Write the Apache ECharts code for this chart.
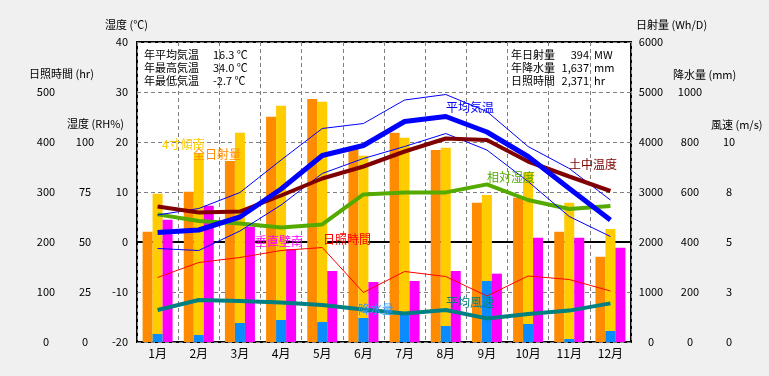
<!DOCTYPE html>
<html>
<head>
<meta charset="utf-8">
<script src="https://cdn.jsdelivr.net/npm/echarts@6/dist/echarts.min.js"></script>
<style>
  html, body { margin: 0; padding: 0; background: #f0f0f0; }
  #chart { width: 769px; height: 376px; }
</style>
</head>
<body>
<div id="chart"></div>
<script>
// 月
var months = ['1月', '2月', '3月', '4月', '5月', '6月', '7月', '8月', '9月', '10月', '11月', '12月'];

// 日射量 (Wh/D)
var zenNissha = [2207, 3007, 3620, 4507, 4860, 3870, 4187, 3840, 2787, 2887, 2207, 1707];
var keisha4sun = [2967, 3773, 4187, 4727, 4807, 3727, 4087, 3887, 2940, 3393, 2787, 2260];
var suichokuMinami = [2447, 2727, 2307, 1860, 1420, 1200, 1220, 1420, 1367, 2087, 2087, 1887];

// 降水量 (mm)
var kousui = [32, 28, 76, 88, 80, 96, 108, 64, 244, 72, 12, 44];

// 気温 (℃)
var heikinKion = [1.9, 2.4, 5.0, 10.6, 17.3, 19.3, 24.1, 25.1, 22.0, 17.1, 10.7, 4.4];
var saikouKion = [5.4, 6.7, 9.9, 16.4, 22.7, 23.7, 28.4, 29.5, 26.1, 19.1, 14.7, 8.4];
var saiteiKion = [-1.3, -1.7, 2.2, 7.4, 13.7, 16.7, 19.1, 21.7, 18.4, 12.1, 5.1, 1.1];
var dochuOndo = [7.1, 5.9, 6.1, 9.3, 12.7, 15.1, 18.1, 20.7, 20.4, 16.1, 13.1, 10.2];

// 相対湿度 (RH%)
var soutaiShitsudo = [63.8, 60.5, 59.3, 57.2, 58.8, 73.8, 74.8, 74.8, 78.8, 71.0, 66.5, 68.0];

// 日照時間 (hr)
var nisshouJikan = [129, 159, 169, 183, 189, 99, 141, 131, 92, 132, 125, 102];

// 平均風速 (m/s)
var heikinFuusoku = [1.6, 2.1, 2.05, 1.98, 1.85, 1.63, 1.43, 1.6, 1.18, 1.4, 1.57, 1.93];

var FONT = '"Noto Sans CJK JP", sans-serif';

function txt(s, x, y, color, size, align) {
    return {
        type: 'text',
        x: x,
        y: y,
        z: 100,
        style: {
            text: s,
            fill: color || '#000',
            font: (size || 11) + 'px ' + FONT,
            textAlign: align || 'left',
            textVerticalAlign: 'middle'
        }
    };
}

var myChart = echarts.init(document.getElementById('chart'));

var dashed = {show: true, lineStyle: {color: '#808080', type: [4, 3], width: 1}};

function sideAxis(pos, min, max, interval, margin, limit, fmt) {
    return {
        type: 'value',
        position: pos,
        min: min,
        max: max,
        interval: interval,
        axisLine: {show: false},
        axisTick: {show: false},
        splitLine: {show: false},
        axisLabel: {
            color: '#000',
            fontSize: 11,
            fontFamily: FONT,
            align: 'center',
            margin: margin,
            formatter: function (v) {
                if (v > limit) return '';
                return fmt ? fmt(v) : String(v);
            }
        }
    };
}

var option = {
    backgroundColor: '#f0f0f0',
    animation: false,
    grid: {
        left: 137, right: 138, top: 42, bottom: 34,
        show: true,
        backgroundColor: '#fff',
        borderColor: '#000',
        borderWidth: 2
    },
    xAxis: [
        {
            type: 'category',
            data: months,
            axisTick: {show: false},
            axisLine: {lineStyle: {color: '#000', width: 2}},
            axisLabel: {color: '#000', fontSize: 12, fontFamily: FONT, margin: 5},
            splitLine: dashed
        },
        {
            type: 'category',
            data: months,
            show: false
        }
    ],
    yAxis: [
        {
            // 湿度 (℃)
            type: 'value',
            position: 'left',
            min: -20, max: 40, interval: 10,
            axisLine: {show: false},
            axisTick: {show: false},
            splitLine: dashed,
            axisLabel: {color: '#000', fontSize: 11, fontFamily: FONT, margin: 9}
        },
        sideAxis('left', 0, 600, 100, 91, 500),          // 日照時間
        sideAxis('left', 0, 150, 25, 52, 100),           // 湿度 RH%
        sideAxis('right', 0, 6000, 1000, 20, 6000),      // 日射量
        sideAxis('right', 0, 1200, 200, 59, 1000),       // 降水量
        sideAxis('right', 0, 15, 2.5, 98, 10, function (v) { return String(Math.round(v)); }) // 風速
    ],
    series: [
        {
            name: '全日射量', type: 'bar', yAxisIndex: 3, data: zenNissha,
            barWidth: 10, barGap: '0%', itemStyle: {color: '#ff8c00'}
        },
        {
            name: '4寸傾南', type: 'bar', yAxisIndex: 3, data: keisha4sun,
            barWidth: 10, barGap: '0%', itemStyle: {color: '#ffcc00'}
        },
        {
            name: '垂直壁南', type: 'bar', yAxisIndex: 3, data: suichokuMinami,
            barWidth: 10, barGap: '0%', itemStyle: {color: '#ff00ff'}
        },
        {
            name: '降水量', type: 'bar', xAxisIndex: 1, yAxisIndex: 4, data: kousui,
            barWidth: 10, itemStyle: {color: '#0a8cff'}, z: 3
        },
        {
            name: '日照時間', type: 'line', yAxisIndex: 1, data: nisshouJikan,
            showSymbol: false, lineStyle: {color: '#ff0000', width: 1}, z: 5
        },
        {
            name: '相対湿度', type: 'line', yAxisIndex: 2, data: soutaiShitsudo,
            showSymbol: false, lineStyle: {color: '#55aa00', width: 4}, z: 5
        },
        {
            name: '最高気温', type: 'line', yAxisIndex: 0, data: saikouKion,
            showSymbol: false, lineStyle: {color: '#0000ff', width: 1}, z: 5
        },
        {
            name: '最低気温', type: 'line', yAxisIndex: 0, data: saiteiKion,
            showSymbol: false, lineStyle: {color: '#0000ff', width: 1}, z: 5
        },
        {
            name: '土中温度', type: 'line', yAxisIndex: 0, data: dochuOndo,
            showSymbol: false, lineStyle: {color: '#800000', width: 4}, z: 6
        },
        {
            name: '平均気温', type: 'line', yAxisIndex: 0, data: heikinKion,
            showSymbol: false, lineStyle: {color: '#0000ff', width: 5}, z: 7
        },
        {
            name: '平均風速', type: 'line', yAxisIndex: 5, data: heikinFuusoku,
            showSymbol: false, lineStyle: {color: '#008080', width: 4}, z: 7
        }
    ],
    graphic: [
        // 軸の名前
        txt('湿度 (℃)', 105, 25),
        txt('日照時間 (hr)', 29, 74),
        txt('湿度 (RH%)', 67, 124),
        txt('日射量 (Wh/D)', 636, 25),
        txt('降水量 (mm)', 673, 75),
        txt('風速 (m/s)', 711, 125),
        // 年間の値
        txt('年平均気温', 144, 55), txt('16.3 ℃', 213, 55),
        txt('年最高気温', 144, 68), txt('34.0 ℃', 213, 68),
        txt('年最低気温', 144, 81), txt('-2.7 ℃', 213, 81),
        txt('年日射量', 511, 55), txt('394', 589, 55, '#000', 11, 'right'), txt('MW', 594, 55),
        txt('年降水量', 511, 68), txt('1,637', 589, 68, '#000', 11, 'right'), txt('mm', 594, 68),
        txt('日照時間', 511, 81), txt('2,371', 589, 81, '#000', 11, 'right'), txt('hr', 594, 81),
        // 系列の名前
        txt('4寸傾南', 162, 144, '#ffcc00', 12),
        txt('全日射量', 193, 154, '#ff8c00', 12),
        txt('垂直壁南', 255, 241, '#ff00ff', 12),
        txt('日照時間', 323, 239, '#ff0000', 12),
        txt('平均気温', 446, 107, '#0000ff', 12),
        txt('土中温度', 569, 164, '#800000', 12),
        txt('相対湿度', 487, 177, '#55aa00', 12),
        txt('降水量', 358, 309, '#3399ff', 12),
        txt('平均風速', 446, 302, '#008080', 12)
    ]
};

option && myChart.setOption(option);
</script>
</body>
</html>
